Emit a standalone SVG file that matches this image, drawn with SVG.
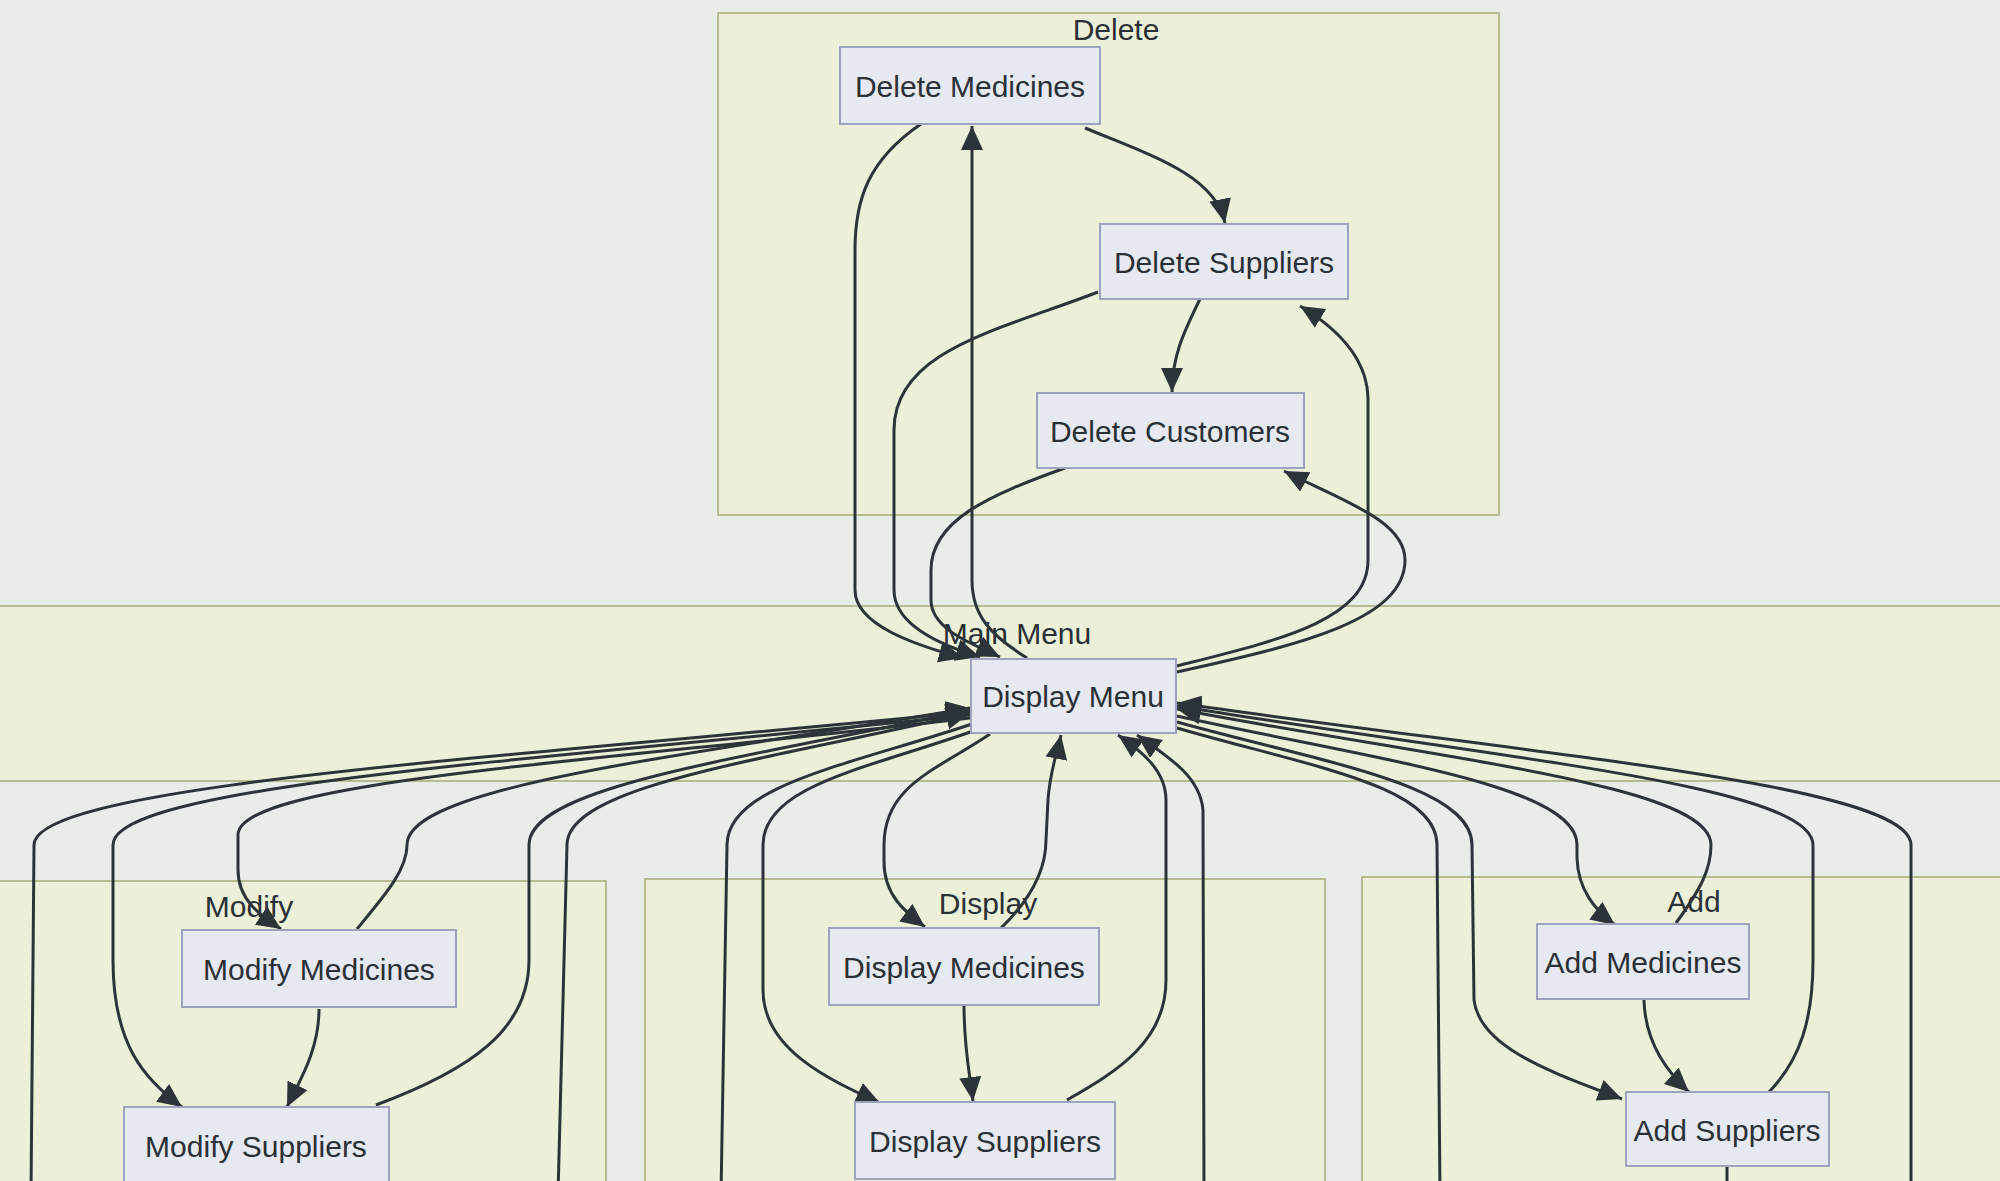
<svg xmlns="http://www.w3.org/2000/svg" width="2000" height="1181" viewBox="0 0 2000 1181">
<defs>
<marker id="arr" markerUnits="userSpaceOnUse" markerWidth="26" markerHeight="24" refX="24" refY="11" orient="auto">
<path d="M0,0 L24,11 L0,22 z" fill="#2c3439"/>
</marker>
<style>
.cl{fill:#edf0d9;stroke:#a7ab78;stroke-width:1.5}
.nd{fill:#e6e9f2;stroke:#9ea3bd;stroke-width:2}
.t{font-family:"Liberation Sans",Arial,sans-serif;font-size:30px;fill:#2a3035;text-anchor:middle;dominant-baseline:central}
.e{fill:none;stroke:#2c3439;stroke-width:3}
.ea{fill:none;stroke:#2c3439;stroke-width:3;marker-end:url(#arr)}
</style>
</defs>
<rect x="0" y="0" width="2000" height="1181" fill="#e8edea"/>

<g id="cluster-delete"><rect class="cl" x="718" y="13" width="781" height="502"/><text class="t" x="1116" y="29">Delete</text></g>
<g id="cluster-main"><rect class="cl" x="-5" y="606" width="2010" height="175"/><text class="t" x="1017" y="633">Main Menu</text></g>
<g id="cluster-modify"><rect class="cl" x="-5" y="881" width="611" height="320"/><text class="t" x="249" y="906">Modify</text></g>
<g id="cluster-display"><rect class="cl" x="645" y="879" width="680" height="320"/><text class="t" x="988" y="903">Display</text></g>
<g id="cluster-add"><rect class="cl" x="1362" y="877" width="650" height="320"/><text class="t" x="1694" y="901">Add</text></g>

<g id="connectors">
<!-- Delete area -->
<path class="ea" d="M921,124 C868,160 855,200 855,250 L855,590 C855,625 915,645 963,658"/>
<path class="ea" d="M1027,658 C990,635 972,615 972,580 L972,126"/>
<path class="ea" d="M1085,128 C1150,155 1215,175 1225,223"/>
<path class="ea" d="M1098,292 C1000,330 894,350 894,430 L894,590 C894,625 940,645 980,657"/>
<path class="ea" d="M1200,299 C1185,330 1172,355 1172,392"/>
<path class="ea" d="M1177,666 C1280,640 1368,620 1368,560 L1368,400 C1368,360 1340,330 1300,306"/>
<path class="ea" d="M1177,672 C1300,645 1405,620 1405,560 C1405,520 1340,500 1284,471"/>
<path class="ea" d="M1065,468 C990,495 931,520 931,570 L931,600 C931,630 975,645 1000,657"/>
<!-- Left side -->
<path class="e" d="M970,712 C502,758 34,785 34,845 L31,1195"/>
<path class="ea" d="M970,715 C541,760 113,785 113,845 L113,960 C113,1045 145,1080 182,1107"/>
<path class="ea" d="M970,718 C604,762 238,780 238,835 L238,870 C238,900 260,915 281,929"/>
<path class="ea" d="M357,929 C385,895 407,870 407,845 C407,785 689,756 970,708"/>
<path class="ea" d="M376,1105 C470,1070 529,1030 529,960 L529,845 C529,785 750,758 970,710"/>
<path class="ea" d="M558,1195 L567,845 C567,785 768,760 970,713"/>
<path class="e" d="M972,724 C850,765 727,785 727,845 L721,1195"/>
<path class="ea" d="M976,730 C870,768 763,785 763,845 L763,990 C763,1050 830,1080 880,1103"/>
<path class="ea" d="M990,734 C937,770 884,785 884,845 L884,862 C884,895 905,912 925,927"/>
<path class="ea" d="M319,1009 C319,1050 300,1080 287,1107"/>
<!-- Bottom -->
<path class="ea" d="M1001,928 C1030,900 1046,870 1046,840 L1048,800 C1050,770 1058,750 1061,735"/>
<path class="ea" d="M1067,1100 C1120,1070 1166,1040 1166,980 L1166,800 C1166,770 1140,750 1118,735"/>
<path class="ea" d="M1204,1195 L1203,810 C1200,775 1165,755 1137,735"/>
<path class="ea" d="M964,1005 C964,1050 970,1075 973,1101"/>
<!-- Right side -->
<path class="ea" d="M1911,1195 L1911,845 C1911,785 1545,756 1177,703"/>
<path class="ea" d="M1769,1092 C1800,1060 1813,1020 1813,960 L1813,845 C1813,785 1495,758 1177,706"/>
<path class="ea" d="M1676,923 C1700,890 1711,870 1711,845 C1711,785 1444,760 1177,709"/>
<path class="ea" d="M1177,716 C1377,760 1577,785 1577,845 L1577,858 C1578,890 1595,910 1615,925"/>
<path class="ea" d="M1177,722 C1325,763 1472,785 1472,845 L1474,1000 C1480,1050 1560,1075 1622,1099"/>
<path class="e" d="M1177,728 C1307,766 1437,785 1437,845 L1440,1195"/>
<path class="ea" d="M1644,1000 C1645,1040 1665,1070 1689,1092"/>
<path class="e" d="M1727,1166 L1727,1195"/>
</g>

<g id="node-delete-medicines"><rect class="nd" x="840" y="47" width="260" height="77"/><text class="t" x="970" y="86">Delete Medicines</text></g>
<g id="node-delete-suppliers"><rect class="nd" x="1100" y="224" width="248" height="75"/><text class="t" x="1224" y="262">Delete Suppliers</text></g>
<g id="node-delete-customers"><rect class="nd" x="1037" y="393" width="267" height="75"/><text class="t" x="1170" y="431">Delete Customers</text></g>
<g id="node-display-menu"><rect class="nd" x="971" y="659" width="205" height="74"/><text class="t" x="1073" y="696">Display Menu</text></g>
<g id="node-modify-medicines"><rect class="nd" x="182" y="930" width="274" height="77"/><text class="t" x="319" y="969">Modify Medicines</text></g>
<g id="node-modify-suppliers"><rect class="nd" x="124" y="1107" width="265" height="77"/><text class="t" x="256" y="1146">Modify Suppliers</text></g>
<g id="node-display-medicines"><rect class="nd" x="829" y="928" width="270" height="77"/><text class="t" x="964" y="967">Display Medicines</text></g>
<g id="node-display-suppliers"><rect class="nd" x="855" y="1102" width="260" height="77"/><text class="t" x="985" y="1141">Display Suppliers</text></g>
<g id="node-add-medicines"><rect class="nd" x="1537" y="924" width="212" height="75"/><text class="t" x="1643" y="962">Add Medicines</text></g>
<g id="node-add-suppliers"><rect class="nd" x="1626" y="1092" width="203" height="74"/><text class="t" x="1727" y="1130">Add Suppliers</text></g>
</svg>
